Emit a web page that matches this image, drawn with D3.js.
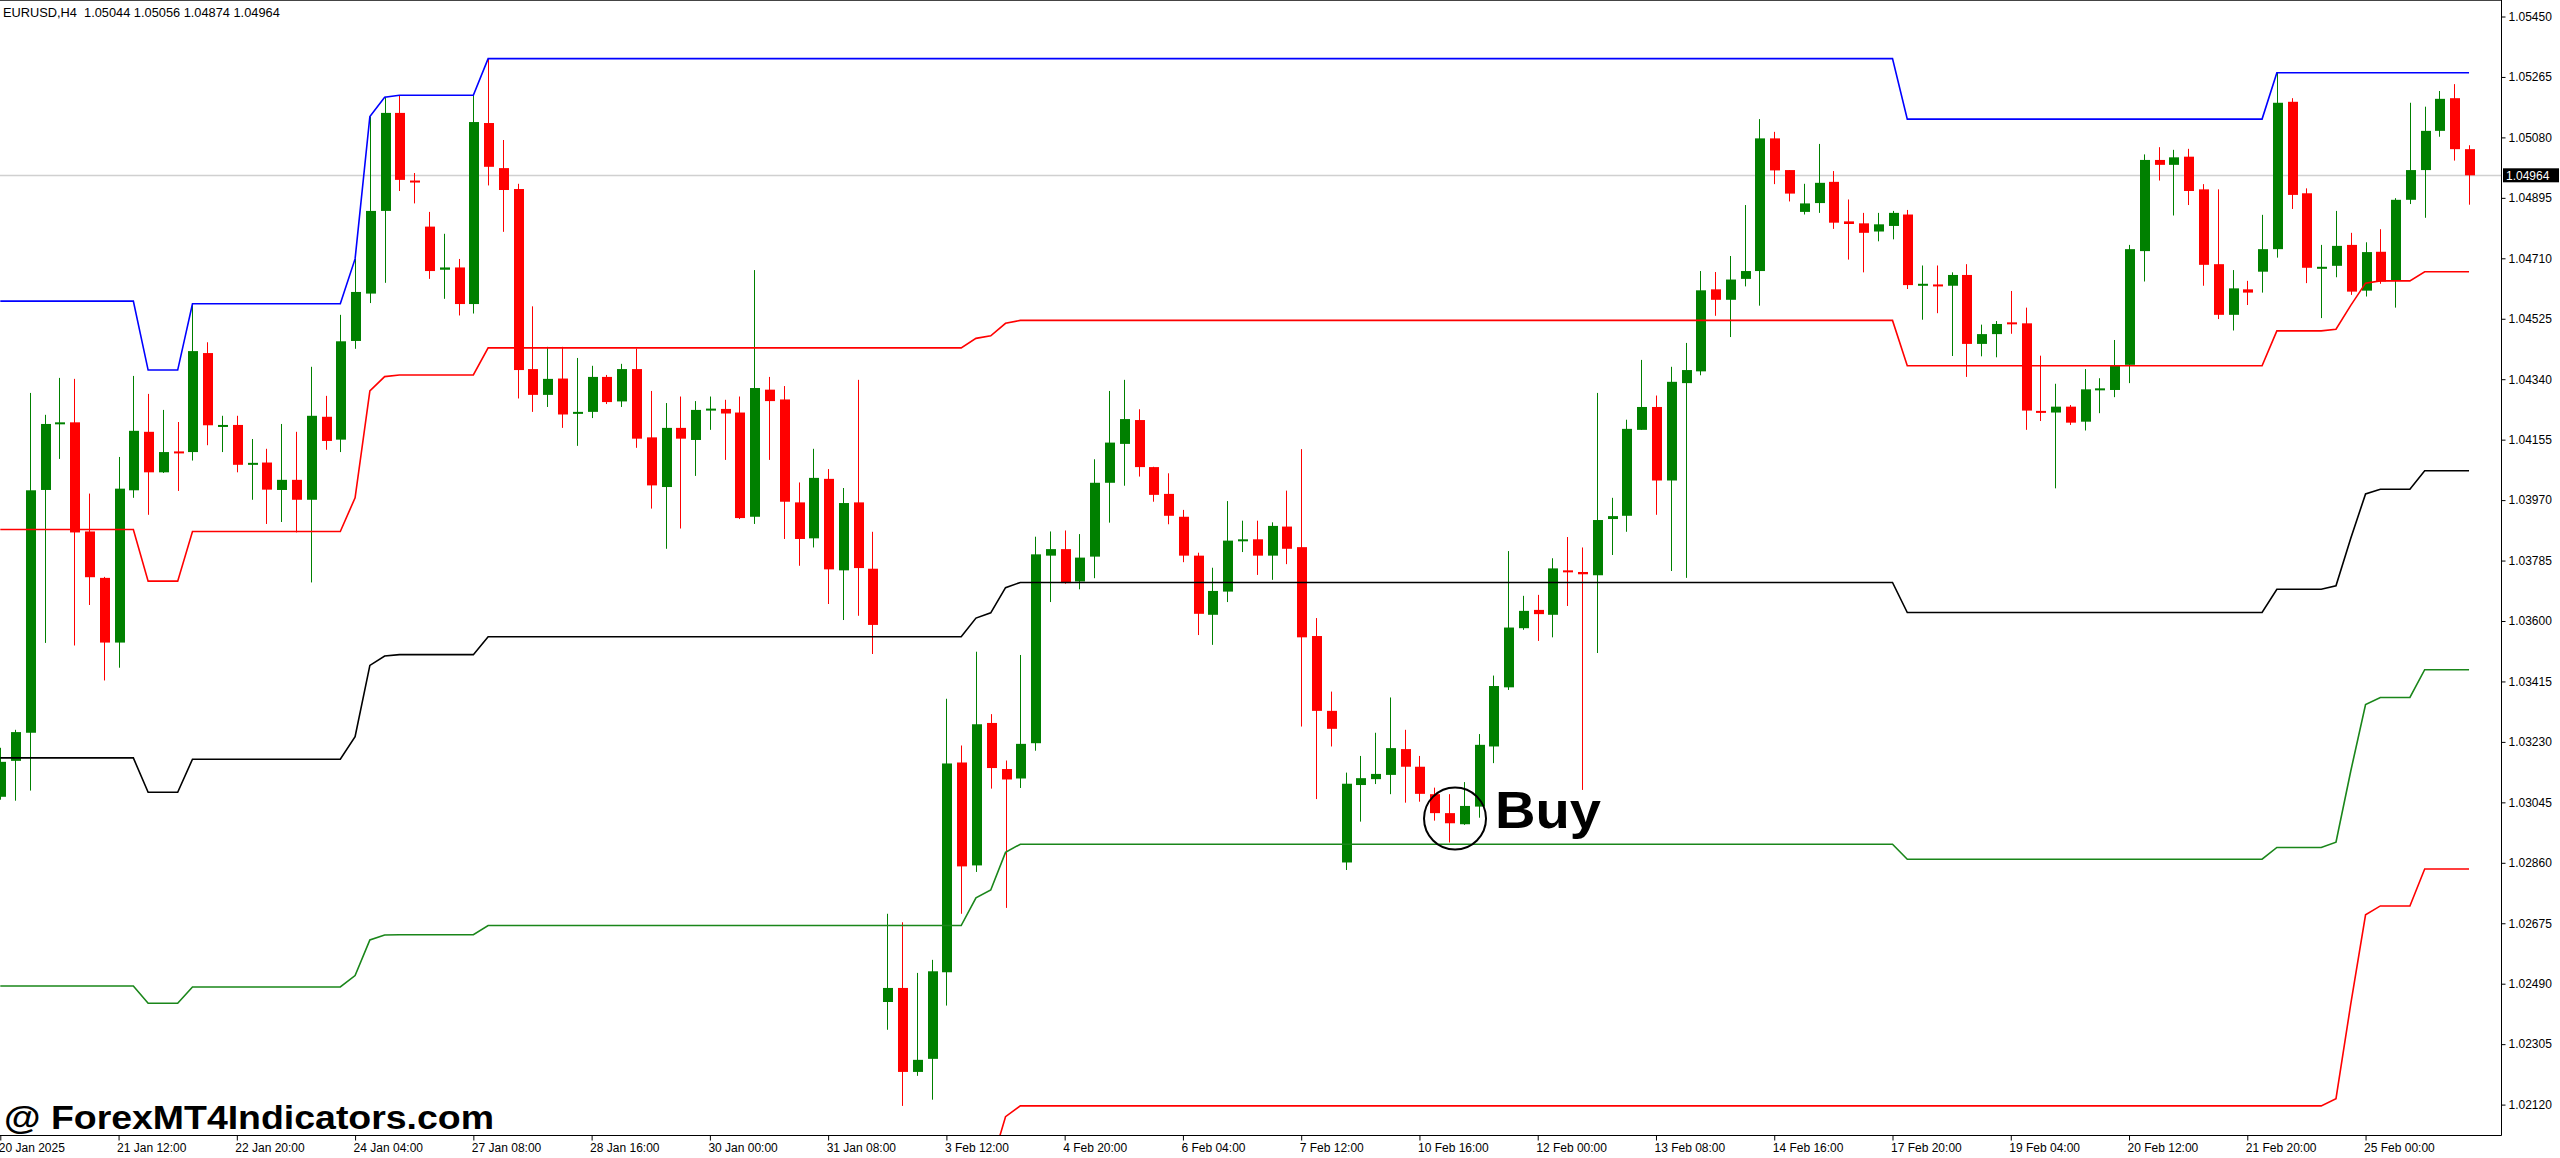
<!DOCTYPE html>
<html lang="en">
<head>
<meta charset="UTF-8">
<title>EURUSD H4</title>
<script src="https://cdn.jsdelivr.net/npm/d3@7"></script>
<style>
    html, body { margin: 0; padding: 0; background: #fff; }
    svg { display: block; font-family: 'Liberation Sans', Arial, sans-serif; }
    .axis text { font-size: 12px; fill: #000; }
    .axis line { stroke: #000; }
</style>
</head>
<body>
<svg id="chart" width="2560" height="1158"></svg>
<script>
// EURUSD H4, one entry per bar
const opens = [1.03062,1.03172,1.03258,1.04001,1.04202,1.04208,1.03874,1.03732,1.03534,1.04000,
    1.04179,1.04055,1.04119,1.04117,1.04420,1.04197,1.04200,1.04078,1.04085,1.04001,
    1.04032,1.03971,1.04225,1.04155,1.04457,1.04602,1.04855,1.05155,1.04948,1.04807,
    1.04675,1.04682,1.04570,1.05124,1.04986,1.04922,1.04371,1.04292,1.04342,1.04235,
    1.04240,1.04347,1.04272,1.04371,1.04162,1.04010,1.04191,1.04154,1.04244,1.04249,
    1.04238,1.03919,1.04308,1.04278,1.03963,1.03853,1.04035,1.03755,1.03963,1.03760,
    1.02434,1.02477,1.02220,1.02260,1.02525,1.03167,1.02852,1.03288,1.03147,1.03118,
    1.03226,1.03800,1.03820,1.03721,1.03797,1.04023,1.04142,1.04215,1.04071,1.03989,
    1.03919,1.03800,1.03619,1.03690,1.03845,1.03850,1.03800,1.03889,1.03826,1.03554,
    1.03325,1.02861,1.03098,1.03116,1.03129,1.03208,1.03154,1.03070,1.03012,1.02978,
    1.03032,1.03216,1.03397,1.03578,1.03634,1.03619,1.03755,1.03750,1.03740,1.03912,
    1.03922,1.04185,1.04255,1.04030,1.04328,1.04364,1.04615,1.04583,1.04647,1.04671,
    1.05077,1.04980,1.04852,1.04879,1.04944,1.04823,1.04817,1.04792,1.04809,1.04844,
    1.04626,1.04630,1.04626,1.04659,1.04448,1.04478,1.04514,1.04511,1.04243,1.04238,
    1.04256,1.04210,1.04307,1.04307,1.04384,1.04732,1.05011,1.04996,1.05021,1.04921,
    1.04692,1.04537,1.04615,1.04669,1.04738,1.05189,1.04909,1.04680,1.04687,1.04751,
    1.04611,1.04730,1.04641,1.04889,1.04980,1.05100,1.05200,1.05044];

const highs = [1.03212,1.03267,1.04298,1.04231,1.04344,1.04341,1.03990,1.03735,1.04102,1.04350,
    1.04295,1.04246,1.04209,1.04570,1.04453,1.04228,1.04228,1.04157,1.04127,1.04203,
    1.04179,1.04378,1.04289,1.04537,1.04708,1.05144,1.05204,1.05209,1.04971,1.04852,
    1.04785,1.04708,1.05209,1.05321,1.05072,1.04938,1.04563,1.04439,1.04439,1.04405,
    1.04381,1.04353,1.04387,1.04434,1.04304,1.04267,1.04287,1.04273,1.04287,1.04277,
    1.04287,1.04674,1.04347,1.04319,1.04024,1.04127,1.04065,1.04007,1.04338,1.03873,
    1.02704,1.02678,1.02523,1.02563,1.03362,1.03219,1.03506,1.03315,1.03173,1.03496,
    1.03858,1.03874,1.03877,1.03866,1.04095,1.04304,1.04338,1.04248,1.04072,1.04052,
    1.03940,1.03809,1.03763,1.03967,1.03907,1.03907,1.03902,1.03999,1.04126,1.03609,
    1.03384,1.03136,1.03187,1.03258,1.03366,1.03267,1.03187,1.03090,1.03070,1.03107,
    1.03254,1.03433,1.03814,1.03677,1.03680,1.03792,1.03857,1.03825,1.04298,1.03977,
    1.04216,1.04399,1.04290,1.04378,1.04451,1.04671,1.04668,1.04717,1.04873,1.05136,
    1.05097,1.04980,1.04938,1.05060,1.04977,1.04890,1.04849,1.04849,1.04855,1.04858,
    1.04688,1.04688,1.04667,1.04692,1.04507,1.04518,1.04610,1.04559,1.04412,1.04326,
    1.04261,1.04371,1.04343,1.04460,1.04751,1.05028,1.05050,1.05042,1.05045,1.04937,
    1.04921,1.04674,1.04641,1.04843,1.05278,1.05200,1.04924,1.04751,1.04855,1.04788,
    1.04759,1.04799,1.04894,1.05186,1.05174,1.05222,1.05243,1.05056];

const lows = [1.03053,1.03050,1.03081,1.03533,1.04096,1.03525,1.03649,1.03418,1.03457,1.03977,
    1.03925,1.04053,1.03998,1.04091,1.04138,1.04117,1.04055,1.03971,1.03897,1.03903,
    1.03871,1.03718,1.04124,1.04117,1.04433,1.04573,1.04635,1.04916,1.04878,1.04647,
    1.04586,1.04535,1.04541,1.04933,1.04791,1.04281,1.04240,1.04255,1.04191,1.04136,
    1.04221,1.04264,1.04255,1.04130,1.03944,1.03821,1.03883,1.04044,1.04185,1.04093,
    1.03912,1.03897,1.04093,1.03851,1.03769,1.03825,1.03652,1.03603,1.03616,1.03499,
    1.02349,1.02116,1.02208,1.02135,1.02423,1.02704,1.02832,1.03087,1.02722,1.03089,
    1.03203,1.03658,1.03714,1.03697,1.03731,1.03901,1.04014,1.04042,1.03965,1.03896,
    1.03780,1.03557,1.03527,1.03658,1.03811,1.03741,1.03726,1.03774,1.03277,1.03055,
    1.03216,1.02838,1.02986,1.03101,1.03070,1.03044,1.03047,1.02989,1.02922,1.02976,
    1.02998,1.03165,1.03389,1.03573,1.03539,1.03550,1.03646,1.03083,1.03502,1.03802,
    1.03873,1.04185,1.03925,1.03753,1.03732,1.04352,1.04534,1.04469,1.04624,1.04565,
    1.04937,1.04884,1.04844,1.04849,1.04800,1.04706,1.04667,1.04762,1.04768,1.04616,
    1.04522,1.04542,1.04411,1.04347,1.04410,1.04407,1.04479,1.04185,1.04212,1.04006,
    1.04200,1.04183,1.04236,1.04285,1.04328,1.04639,1.04948,1.04841,1.04873,1.04626,
    1.04524,1.04489,1.04567,1.04605,1.04712,1.04861,1.04634,1.04527,1.04652,1.04598,
    1.04593,1.04632,1.04559,1.04876,1.04834,1.05082,1.05009,1.04874];

const closes = [1.03169,1.03260,1.04000,1.04203,1.04208,1.03871,1.03734,1.03534,1.04005,1.04182,
    1.04055,1.04117,1.04114,1.04426,1.04199,1.04200,1.04078,1.04084,1.04002,1.04032,
    1.03971,1.04228,1.04151,1.04456,1.04607,1.04855,1.05155,1.04950,1.04942,1.04671,
    1.04682,1.04570,1.05127,1.04990,1.04919,1.04368,1.04292,1.04341,1.04232,1.04240,
    1.04347,1.04270,1.04371,1.04158,1.04015,1.04191,1.04158,1.04246,1.04250,1.04235,
    1.03915,1.04313,1.04273,1.03965,1.03851,1.04038,1.03758,1.03961,1.03762,1.03588,
    1.02477,1.02220,1.02257,1.02528,1.03164,1.02849,1.03284,1.03150,1.03115,1.03224,
    1.03804,1.03820,1.03716,1.03794,1.04023,1.04146,1.04218,1.04071,1.03986,1.03922,
    1.03800,1.03622,1.03692,1.03846,1.03850,1.03800,1.03891,1.03821,1.03550,1.03325,
    1.03270,1.03102,1.03119,1.03132,1.03211,1.03154,1.03071,1.03012,1.02981,1.03034,
    1.03221,1.03401,1.03580,1.03631,1.03621,1.03761,1.03750,1.03743,1.03909,1.03921,
    1.04188,1.04255,1.04030,1.04332,1.04368,1.04612,1.04583,1.04645,1.04671,1.05077,
    1.04979,1.04908,1.04878,1.04941,1.04819,1.04815,1.04788,1.04814,1.04849,1.04628,
    1.04632,1.04624,1.04659,1.04448,1.04478,1.04509,1.04509,1.04244,1.04238,1.04256,
    1.04207,1.04309,1.04312,1.04381,1.04738,1.05011,1.04996,1.05019,1.04916,1.04690,
    1.04537,1.04618,1.04605,1.04738,1.05186,1.04904,1.04681,1.04684,1.04748,1.04608,
    1.04729,1.04639,1.04889,1.04980,1.05100,1.05198,1.05044,1.04964];

// channel levels, [bar, price] where the line turns
const levelTop = [[0,1.04579],[9,1.04579],[10,1.04368],[12,1.04368],[13,1.04571],[23,1.04571],
    [24,1.04708],[25,1.05144],[26,1.05203],[27,1.05209],[32,1.05209],[33,1.05321],[128,1.05321],
    [129,1.05136],[153,1.05136],[154,1.05278],[167,1.05278]];
const levelUpper = [[0,1.03880],[9,1.03880],[10,1.03722],[12,1.03722],[13,1.03874],[23,1.03874],
    [24,1.03977],[25,1.04304],[26,1.04348],[27,1.04353],[32,1.04353],[33,1.04436],[65,1.04436],
    [66,1.04465],[67,1.04473],[68,1.04511],[69,1.04520],[128,1.04520],[129,1.04381],[153,1.04381],
    [154,1.04488],[157,1.04488],[158,1.04493],[159,1.04566],[160,1.04634],[161,1.04641],[163,1.04641],
    [164,1.04669],[167,1.04669]];
const levelMiddle = [[0,1.03181],[9,1.03181],[10,1.03076],[12,1.03076],[13,1.03177],[23,1.03177],
    [24,1.03246],[25,1.03464],[26,1.03493],[27,1.03497],[32,1.03497],[33,1.03552],[65,1.03552],
    [66,1.03609],[67,1.03625],[68,1.03702],[69,1.03718],[128,1.03718],[129,1.03626],[153,1.03626],
    [154,1.03697],[157,1.03697],[158,1.03708],[159,1.03853],[160,1.03989],[161,1.04003],[163,1.04003],
    [164,1.04060],[167,1.04060]];
const levelLower = [[0,1.02483],[9,1.02483],[10,1.02430],[12,1.02430],[13,1.02480],[23,1.02480],
    [24,1.02515],[25,1.02624],[26,1.02639],[27,1.02640],[32,1.02640],[33,1.02668],[65,1.02668],
    [66,1.02753],[67,1.02777],[68,1.02892],[69,1.02917],[128,1.02917],[129,1.02871],[153,1.02871],
    [154,1.02907],[157,1.02907],[158,1.02923],[159,1.03141],[160,1.03344],[161,1.03366],[163,1.03366],
    [164,1.03451],[167,1.03451]];
const levelBottom = [[0,1.01784],[65,1.01784],[66,1.01897],[67,1.01930],[68,1.02083],[69,1.02116],
    [157,1.02116],[158,1.02138],[159,1.02428],[160,1.02701],[161,1.02728],[163,1.02728],
    [164,1.02841],[167,1.02841]];

const priceTicks = [1.05450,1.05265,1.05080,1.04895,1.04710,1.04525,1.04340,1.04155,1.03970,1.03785,
    1.03600,1.03415,1.03230,1.03045,1.02860,1.02675,1.02490,1.02305,1.02120];
const timeTickBars = [0,8,16,24,32,40,48,56,64,72,80,88,96,104,112,120,128,136,144,152,160];
const timeTickLabels = ["20 Jan 2025","21 Jan 12:00","22 Jan 20:00","24 Jan 04:00","27 Jan 08:00",
    "28 Jan 16:00","30 Jan 00:00","31 Jan 08:00","3 Feb 12:00","4 Feb 20:00","6 Feb 04:00",
    "7 Feb 12:00","10 Feb 16:00","12 Feb 00:00","13 Feb 08:00","14 Feb 16:00","17 Feb 20:00",
    "19 Feb 04:00","20 Feb 12:00","21 Feb 20:00","25 Feb 00:00"];
const buyBar = 98;

const svg = d3.select("#chart");
const plotW = 2501, plotH = 1135;

const x = d3.scaleLinear().domain([0, 169]).range([0.3, 2498.6]);
const y = d3.scaleLinear().domain([1.02120, 1.05450]).range([1104.6, 16.5]);

svg.append("rect").attr("width", 2560).attr("height", 1158).attr("fill", "#fff");

svg.append("defs").append("clipPath").attr("id", "plot")
    .append("rect").attr("width", plotW).attr("height", plotH);

const plot = svg.append("g").attr("clip-path", "url(#plot)");

// last price line
const last = closes[closes.length - 1];
plot.append("line")
    .attr("x1", 0).attr("x2", plotW)
    .attr("y1", Math.round(y(last)) + 0.5).attr("y2", Math.round(y(last)) + 0.5)
    .attr("stroke", "#d0d0d0").attr("stroke-width", 1.5);

// candles
const bars = d3.range(opens.length).map(i => ({
    i, o: opens[i], h: highs[i], l: lows[i], c: closes[i]
}));
const up = "#008000", down = "#ff0000";

const candle = plot.selectAll("g.candle").data(bars).enter().append("g").attr("class", "candle");
candle.append("line")
    .attr("x1", d => Math.round(x(d.i)) + 0.5)
    .attr("x2", d => Math.round(x(d.i)) + 0.5)
    .attr("y1", d => y(d.h))
    .attr("y2", d => y(d.l))
    .attr("stroke", d => d.c >= d.o ? up : down)
    .attr("stroke-width", 1);
candle.append("rect")
    .attr("x", d => Math.round(x(d.i)) - 4)
    .attr("width", 10)
    .attr("y", d => y(Math.max(d.o, d.c)))
    .attr("height", d => Math.max(2, Math.abs(y(d.o) - y(d.c))))
    .attr("fill", d => d.c >= d.o ? up : down);

// channel lines
const levelLine = d3.line().x(d => x(d[0])).y(d => y(d[1]));
const levels = [
    { pts: levelTop, color: "#0000ff" },
    { pts: levelUpper, color: "#ff0000" },
    { pts: levelMiddle, color: "#000000" },
    { pts: levelLower, color: "#1a861a" },
    { pts: levelBottom, color: "#ff0000" }
];
plot.selectAll("path.level").data(levels).enter().append("path")
    .attr("class", "level")
    .attr("d", d => levelLine(d.pts))
    .attr("fill", "none")
    .attr("stroke", d => d.color)
    .attr("stroke-width", 1.6);

// frame
svg.append("line").attr("x1", 0).attr("x2", plotW + 0.5).attr("y1", 0.5).attr("y2", 0.5)
    .attr("stroke", "#444");
svg.append("line").attr("x1", plotW + 0.5).attr("x2", plotW + 0.5).attr("y1", 0).attr("y2", plotH + 0.5)
    .attr("stroke", "#000");
svg.append("line").attr("x1", 0).attr("x2", plotW + 0.5).attr("y1", plotH + 0.5).attr("y2", plotH + 0.5)
    .attr("stroke", "#000");

// price axis
svg.append("g").attr("class", "axis")
    .attr("transform", `translate(${plotW + 0.5},0)`)
    .call(d3.axisRight(y).tickValues(priceTicks).tickSize(4).tickPadding(3).tickFormat(d3.format(".5f")))
    .call(g => g.select(".domain").remove());

// time axis
svg.append("g").attr("class", "axis")
    .attr("transform", `translate(0,${plotH + 0.5})`)
    .call(d3.axisBottom(x).tickValues(timeTickBars).tickSize(5).tickPadding(3)
        .tickFormat((d, i) => timeTickLabels[i]))
    .call(g => g.select(".domain").remove())
    .call(g => g.selectAll("text").attr("text-anchor", "start").attr("dx", -2));

// last price tag
const tagY = y(last);
svg.append("rect").attr("x", plotW + 2).attr("y", tagY - 7).attr("width", 56).attr("height", 14).attr("fill", "#000");
svg.append("text").attr("x", plotW + 5).attr("y", tagY).attr("dy", "0.35em")
    .attr("font-size", 12).attr("fill", "#fff").text(d3.format(".5f")(last));

// header
svg.append("text").attr("x", 3).attr("y", 17).attr("font-size", 12.8).attr("fill", "#000")
    .attr("xml:space", "preserve").style("white-space", "pre")
    .text(`EURUSD,H4  ${d3.format(".5f")(opens[167])} ${d3.format(".5f")(highs[167])} ${d3.format(".5f")(lows[167])} ${d3.format(".5f")(last)}`);

// buy mark
const buyX = x(buyBar) + 6, buyY = y(lows[buyBar]) - 24;
svg.append("circle").attr("cx", buyX).attr("cy", buyY).attr("r", 31)
    .attr("fill", "none").attr("stroke", "#000").attr("stroke-width", 2);
svg.append("text").attr("x", buyX + 40).attr("y", buyY + 9)
    .attr("font-size", 52).attr("font-weight", "bold").attr("fill", "#000")
    .attr("textLength", 106).attr("lengthAdjust", "spacingAndGlyphs").text("Buy");

// watermark
svg.append("text").attr("x", 4).attr("y", 1129)
    .attr("font-size", 33).attr("font-weight", "bold").attr("fill", "#000")
    .attr("textLength", 490).attr("lengthAdjust", "spacingAndGlyphs")
    .text("@ ForexMT4Indicators.com");
</script>
</body>
</html>
